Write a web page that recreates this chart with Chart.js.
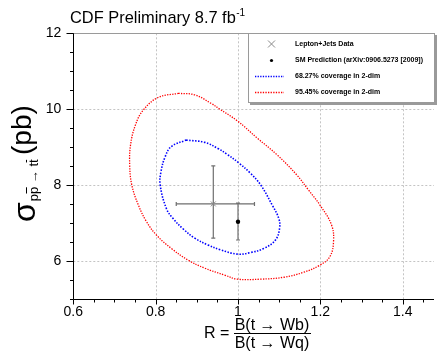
<!DOCTYPE html>
<html>
<head>
<meta charset="utf-8">
<script src="https://cdn.jsdelivr.net/npm/chart.js@4.4.1/dist/chart.umd.min.js"></script>
<style>
  body { margin: 0; background: #fff; }
  #wrap { width: 439px; height: 351px; }
</style>
</head>
<body>
<div id="wrap"><canvas id="chart" width="439" height="351"></canvas></div>
<script>
// contour points (R, sigma)
const blueR     = [0.874, 0.919, 0.951, 0.973, 1.003, 1.030, 1.055, 1.083, 1.099, 1.101, 1.091, 1.063, 1.030, 0.999, 0.958, 0.927, 0.895, 0.867, 0.842, 0.826, 0.811, 0.813, 0.823, 0.838, 0.874];
const blueSigma = [9.19, 9.13, 8.97, 8.82, 8.58, 8.32, 8.01, 7.48, 7.13, 6.87, 6.56, 6.34, 6.23, 6.19, 6.30, 6.43, 6.61, 6.85, 7.13, 7.39, 8.01, 8.36, 8.75, 9.02, 9.19];

const redR     = [0.855, 0.895, 0.934, 0.955, 0.999, 1.047, 1.095, 1.143, 1.171, 1.199, 1.227, 1.232, 1.223, 1.199, 1.159, 1.111, 1.055, 0.999, 0.967, 0.919, 0.879, 0.838, 0.802, 0.778, 0.758, 0.742, 0.737, 0.739, 0.751, 0.770, 0.806, 0.855];
const redSigma = [10.42, 10.38, 10.16, 10.01, 9.69, 9.24, 8.80, 8.27, 7.88, 7.48, 6.96, 6.52, 6.12, 5.90, 5.71, 5.58, 5.53, 5.53, 5.64, 5.82, 6.03, 6.34, 6.69, 7.04, 7.48, 8.01, 8.53, 9.06, 9.59, 9.98, 10.31, 10.42];

// measurement and prediction
const dataR = [0.94];
const dataSigma = [7.51];
const dataRLow = [0.85];
const dataRHigh = [1.04];
const dataSigmaLow = [6.61];
const dataSigmaHigh = [8.51];

const smR = [1.0];
const smSigma = [7.04];
const smSigmaLow = [6.56];
const smSigmaHigh = [7.53];

const legendLabels = ['Lepton+Jets Data', 'SM Prediction (arXiv:0906.5273 [2009])', '68.27% coverage in 2-dim', '95.45% coverage in 2-dim'];
const xTickLabels = ['0.6', '0.8', '1', '1.2', '1.4'];
const yTickLabels = ['6', '8', '10', '12'];

const FONT = '"Liberation Sans", Arial, sans-serif';

function pts(xs, ys) {
  return xs.map((x, i) => ({ x: x, y: ys[i] }));
}

function isMajorX(v) { return xTickLabels.indexOf(String(+v.toFixed(2))) >= 0; }
function isMajorY(v) { return yTickLabels.indexOf(String(+v.toFixed(2))) >= 0; }

const decor = {
  id: 'decor',
  beforeDatasetsDraw(chart) {
    const ctx = chart.ctx;
    const a = chart.chartArea;
    const xs = chart.scales.x, ys = chart.scales.y;
    ctx.save();
    // dashed grid
    ctx.strokeStyle = '#c4c4c4';
    ctx.lineWidth = 1;
    ctx.setLineDash([2, 2]);
    xs.ticks.forEach(t => {
      if (!isMajorX(t.value) || t.value < 0.7) return;
      const px = Math.round(xs.getPixelForValue(t.value)) + 0.5;
      ctx.beginPath(); ctx.moveTo(px, a.top); ctx.lineTo(px, a.bottom); ctx.stroke();
    });
    ys.ticks.forEach(t => {
      if (!isMajorY(t.value) || t.value > 11.9) return;
      const py = Math.round(ys.getPixelForValue(t.value)) + 0.5;
      ctx.beginPath(); ctx.moveTo(a.left, py); ctx.lineTo(a.right, py); ctx.stroke();
    });
    ctx.setLineDash([]);
    // top frame
    ctx.strokeStyle = '#9a9a9a';
    ctx.beginPath(); ctx.moveTo(a.left, Math.round(a.top) + 0.5); ctx.lineTo(a.right, Math.round(a.top) + 0.5); ctx.stroke();

    // error bars
    ctx.strokeStyle = '#6f6f6f';
    ctx.lineWidth = 1.2;
    const cap = 2;
    function hbar(y, x1, x2) {
      const py = ys.getPixelForValue(y), p1 = xs.getPixelForValue(x1), p2 = xs.getPixelForValue(x2);
      ctx.beginPath(); ctx.moveTo(p1, py); ctx.lineTo(p2, py);
      ctx.moveTo(p1, py - cap); ctx.lineTo(p1, py + cap);
      ctx.moveTo(p2, py - cap); ctx.lineTo(p2, py + cap); ctx.stroke();
    }
    function vbar(x, y1, y2) {
      const px = xs.getPixelForValue(x), p1 = ys.getPixelForValue(y1), p2 = ys.getPixelForValue(y2);
      ctx.beginPath(); ctx.moveTo(px, p1); ctx.lineTo(px, p2);
      ctx.moveTo(px - cap, p1); ctx.lineTo(px + cap, p1);
      ctx.moveTo(px - cap, p2); ctx.lineTo(px + cap, p2); ctx.stroke();
    }
    dataR.forEach((r, i) => {
      hbar(dataSigma[i], dataRLow[i], dataRHigh[i]);
      vbar(r, dataSigmaLow[i], dataSigmaHigh[i]);
    });
    smR.forEach((r, i) => vbar(r, smSigmaLow[i], smSigmaHigh[i]));
    ctx.restore();
  },
  afterDraw(chart) {
    const ctx = chart.ctx;
    const a = chart.chartArea;
    const xs = chart.scales.x, ys = chart.scales.y;
    ctx.save();
    // axes
    ctx.strokeStyle = '#000';
    ctx.lineWidth = 1;
    const ax = Math.round(a.left) + 0.5, ay = Math.round(a.bottom) + 0.5;
    ctx.beginPath(); ctx.moveTo(ax, a.top); ctx.lineTo(ax, ay); ctx.lineTo(a.right, ay); ctx.stroke();
    // ticks, pointing outward
    xs.ticks.forEach(t => {
      const px = Math.round(xs.getPixelForValue(t.value)) + 0.5;
      const len = isMajorX(t.value) ? 5 : 3;
      ctx.beginPath(); ctx.moveTo(px, ay); ctx.lineTo(px, ay + len); ctx.stroke();
    });
    ys.ticks.forEach(t => {
      const py = Math.round(ys.getPixelForValue(t.value)) + 0.5;
      const len = isMajorY(t.value) ? 7 : 3.5;
      ctx.beginPath(); ctx.moveTo(ax, py); ctx.lineTo(ax - len, py); ctx.stroke();
    });

    // legend box
    const lx = 248, ly = 33, lw = 186, lh = 69;
    ctx.fillStyle = '#fff';
    ctx.fillRect(lx, ly, lw, lh);
    ctx.strokeStyle = '#9a9a9a';
    ctx.lineWidth = 1;
    ctx.strokeRect(lx + 0.5, ly + 0.5, lw, lh);
    ctx.lineWidth = 2;
    ctx.beginPath();
    ctx.moveTo(lx + 2, ly + lh + 2); ctx.lineTo(lx + lw + 2, ly + lh + 2); ctx.lineTo(lx + lw + 2, ly + 2);
    ctx.stroke();

    const rows = [44, 60.5, 76.5, 92.5];
    const mx = 271.5;
    // cross
    ctx.strokeStyle = '#8a8a8a'; ctx.lineWidth = 1;
    ctx.beginPath();
    ctx.moveTo(mx - 3.5, rows[0] - 3.5); ctx.lineTo(mx + 3.5, rows[0] + 3.5);
    ctx.moveTo(mx + 3.5, rows[0] - 3.5); ctx.lineTo(mx - 3.5, rows[0] + 3.5);
    ctx.stroke();
    // dot
    ctx.fillStyle = '#000';
    ctx.beginPath(); ctx.arc(mx, rows[1], 1.6, 0, Math.PI * 2); ctx.fill();
    // dotted lines
    ctx.lineWidth = 1.3;
    ctx.setLineDash([1.3, 1.3]);
    ctx.strokeStyle = '#0000ff';
    ctx.beginPath(); ctx.moveTo(255, rows[2]); ctx.lineTo(284, rows[2]); ctx.stroke();
    ctx.strokeStyle = '#ff0000';
    ctx.beginPath(); ctx.moveTo(255, rows[3]); ctx.lineTo(284, rows[3]); ctx.stroke();
    ctx.setLineDash([]);
    ctx.fillStyle = '#000';
    ctx.font = 'bold 7px ' + FONT;
    ctx.textBaseline = 'middle';
    ctx.textAlign = 'left';
    legendLabels.forEach((s, i) => ctx.fillText(s, 295, rows[i]));

    // title
    ctx.textBaseline = 'alphabetic';
    ctx.font = '16.4px ' + FONT;
    const title = 'CDF Preliminary 8.7 fb';
    ctx.fillText(title, 70, 23);
    const tw = ctx.measureText(title).width;
    ctx.font = '10px ' + FONT;
    ctx.fillText('-1', 70 + tw + 0.5, 16);

    // x axis title: R = B(t -> Wb) / B(t -> Wq)
    ctx.font = '16px ' + FONT;
    ctx.fillText('R =', 204, 338);
    ctx.textAlign = 'center';
    ctx.fillText('B(t \u2192 Wb)', 272, 330);
    ctx.fillText('B(t \u2192 Wq)', 272, 348);
    ctx.lineWidth = 1;
    ctx.strokeStyle = '#000';
    ctx.beginPath(); ctx.moveTo(234, 333.5); ctx.lineTo(311, 333.5); ctx.stroke();

    // y axis title
    ctx.translate(35, 222);
    ctx.rotate(-Math.PI / 2);
    ctx.textAlign = 'left';
    ctx.font = '32px ' + FONT;
    ctx.fillText('\u03c3', 0, 0);
    let x = ctx.measureText('\u03c3').width + 1;
    ctx.font = '13px ' + FONT;
    const sub = ['p', 'p', ' \u2192 ', 't', 't'];
    sub.forEach((s, i) => {
      const w = ctx.measureText(s).width;
      ctx.fillText(s, x, 3);
      if (i === 1 || i === 4) {
        ctx.lineWidth = 1;
        ctx.beginPath(); ctx.moveTo(x + 0.5, -8.5); ctx.lineTo(x + w - 0.5, -8.5); ctx.stroke();
      }
      x += w;
    });
    ctx.font = '28px ' + FONT;
    ctx.fillText('(pb)', 67, -4);
    ctx.restore();
  }
};

new Chart(document.getElementById('chart'), {
  type: 'scatter',
  data: {
    datasets: [
      {
        label: '95.45% coverage in 2-dim',
        data: pts(redR, redSigma),
        showLine: true,
        borderColor: '#ff0000',
        borderWidth: 1.3,
        borderDash: [1.3, 1.3],
        tension: 0.4,
        pointRadius: 0
      },
      {
        label: '68.27% coverage in 2-dim',
        data: pts(blueR, blueSigma),
        showLine: true,
        borderColor: '#0000ff',
        borderWidth: 1.6,
        borderDash: [1.5, 1.5],
        tension: 0.4,
        pointRadius: 0
      },
      {
        label: 'Lepton+Jets Data',
        data: pts(dataR, dataSigma),
        pointStyle: 'crossRot',
        pointRadius: 3.5,
        borderColor: '#8a8a8a',
        borderWidth: 1
      },
      {
        label: 'SM Prediction',
        data: pts(smR, smSigma),
        pointStyle: 'circle',
        pointRadius: 2.2,
        backgroundColor: '#000',
        borderColor: '#000',
        borderWidth: 0
      }
    ]
  },
  options: {
    responsive: false,
    animation: false,
    devicePixelRatio: 1,
    layout: { padding: { top: 33.3, right: 0, left: 0, bottom: 0 } },
    plugins: { legend: { display: false }, tooltip: { enabled: false } },
    scales: {
      x: {
        type: 'linear',
        min: 0.6,
        max: 1.476,
        afterFit: s => { s.height = 51.7; },
        grid: { display: false, drawTicks: false },
        border: { display: false },
        ticks: {
          stepSize: 0.05,
          includeBounds: false,
          autoSkip: false,
          maxRotation: 0,
          padding: 4,
          color: '#000',
          font: { family: FONT, size: 14 },
          callback: v => isMajorX(v) ? String(+v.toFixed(1)) : ''
        }
      },
      y: {
        type: 'linear',
        min: 5,
        max: 12,
        afterFit: s => { s.width = 73.3; },
        grid: { display: false, drawTicks: false },
        border: { display: false },
        ticks: {
          stepSize: 0.5,
          autoSkip: false,
          padding: 12,
          color: '#000',
          font: { family: FONT, size: 14 },
          callback: v => isMajorY(v) ? String(v) : ''
        }
      }
    }
  },
  plugins: [decor]
});
</script>
</body>
</html>
